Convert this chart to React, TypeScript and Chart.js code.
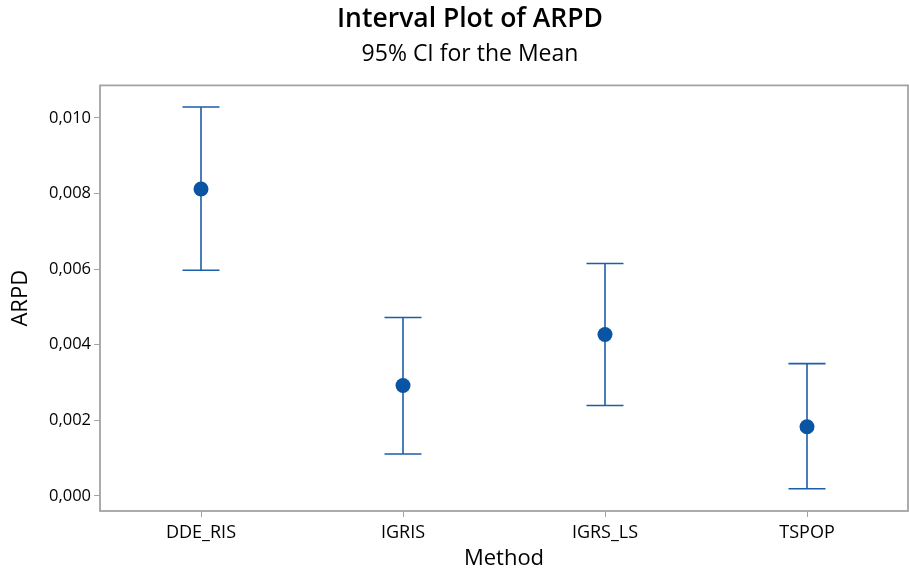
import React, { useEffect, useRef } from "react";
import { Chart, registerables } from "chart.js";

Chart.register(...registerables);

const METHODS = ["DDE_RIS", "IGRIS", "IGRS_LS", "TSPOP"];
const MEANS = [0.00812, 0.00292, 0.00427, 0.00183];
const LOWER = [0.00597, 0.00111, 0.00239, 0.00019];
const UPPER = [0.01029, 0.00472, 0.00615, 0.0035];
const Y_TICKS = [0, 0.002, 0.004, 0.006, 0.008, 0.01];

const FONT = "'Open Sans', 'Noto Sans', sans-serif";
const BLUE = "#0a54a4";
const LINE_BLUE = "#1d5ea9";
const GREY = "#a3a3a3";

const errorBarPlugin = {
  id: "errorBars",
  beforeDatasetsDraw(chart: any) {
    const { ctx, scales } = chart;
    const xs = scales.x;
    const ys = scales.y;
    ctx.save();
    ctx.strokeStyle = LINE_BLUE;
    ctx.lineWidth = 1.6;
    const half = 18.5;
    for (let i = 0; i < METHODS.length; i++) {
      const x = xs.getPixelForValue(i);
      const yl = ys.getPixelForValue(LOWER[i]);
      const yu = ys.getPixelForValue(UPPER[i]);
      ctx.beginPath();
      ctx.moveTo(x, yl);
      ctx.lineTo(x, yu);
      ctx.moveTo(x - half, yl);
      ctx.lineTo(x + half, yl);
      ctx.moveTo(x - half, yu);
      ctx.lineTo(x + half, yu);
      ctx.stroke();
    }
    ctx.restore();
  },
};

const framePlugin = {
  id: "frame",
  afterDraw(chart: any) {
    const { ctx, chartArea } = chart;
    ctx.save();
    ctx.strokeStyle = GREY;
    ctx.lineWidth = 1.8;
    ctx.strokeRect(
      chartArea.left,
      chartArea.top,
      chartArea.right - chartArea.left,
      chartArea.bottom - chartArea.top
    );
    ctx.restore();
  },
};

export default function App() {
  const ref = useRef<HTMLCanvasElement | null>(null);

  useEffect(() => {
    if (!ref.current) return;
    const chart = new Chart(ref.current, {
      type: "line",
      data: {
        labels: METHODS,
        datasets: [
          {
            data: MEANS,
            showLine: false,
            pointRadius: 7.5,
            pointHoverRadius: 7.5,
            pointBackgroundColor: BLUE,
            pointBorderColor: BLUE,
            pointBorderWidth: 0,
          },
        ],
      },
      options: {
        animation: false,
        responsive: false,
        maintainAspectRatio: false,
        layout: {
          autoPadding: false,
          padding: { left: 32, right: 1, top: 0, bottom: 0 },
        },
        plugins: {
          legend: { display: false },
          tooltip: { enabled: false },
          title: {
            display: true,
            text: "Interval Plot of ARPD",
            color: "#000",
            font: { family: FONT, size: 26.5, weight: "600", lineHeight: 1.2 },
            padding: { top: 4, bottom: 0 },
          },
          subtitle: {
            display: true,
            text: "95% CI for the Mean",
            color: "#000",
            font: { family: FONT, size: 23, weight: "normal", lineHeight: 1.2 },
            padding: { top: 5, bottom: 17 },
          },
        },
        scales: {
          x: {
            type: "category",
            offset: true,
            afterFit(scale: any) {
              scale.height = 61;
              scale.paddingLeft = 0;
              scale.paddingRight = 0;
            },
            grid: {
              drawOnChartArea: false,
              drawTicks: true,
              tickLength: 6,
              color: GREY,
              offset: false,
            },
            border: { display: false },
            ticks: {
              color: "#000",
              padding: 5,
              maxRotation: 0,
              font: { family: FONT, size: 18 },
            },
            title: {
              display: true,
              text: "Method",
              color: "#000",
              font: { family: FONT, size: 22, lineHeight: 1.2 },
              padding: { top: 0, bottom: 0 },
            },
          },
          y: {
            type: "linear",
            min: -0.0004,
            max: 0.01086,
            afterFit(scale: any) {
              scale.width = 68;
              scale.paddingTop = 0;
              scale.paddingBottom = 0;
            },
            afterBuildTicks(scale: any) {
              scale.ticks = Y_TICKS.map((v) => ({ value: v }));
            },
            grid: {
              drawOnChartArea: false,
              drawTicks: true,
              tickLength: 6,
              color: GREY,
            },
            border: { display: false },
            ticks: {
              color: "#000",
              padding: 3,
              font: { family: FONT, size: 16.5 },
              callback: (v: any) => Number(v).toFixed(3).replace(".", ","),
            },
            title: {
              display: true,
              text: "ARPD",
              color: "#000",
              font: { family: FONT, size: 22, lineHeight: 1.2 },
              padding: { top: -24, bottom: 0 },
            },
          },
        },
      },
      plugins: [errorBarPlugin, framePlugin],
    } as any);
    return () => chart.destroy();
  }, []);

  return (
    <div
      style={{
        position: "fixed",
        left: 0,
        top: 0,
        width: 909,
        height: 572,
        background: "#fff",
      }}
    >
      <canvas ref={ref} width={909} height={572} />
    </div>
  );
}
